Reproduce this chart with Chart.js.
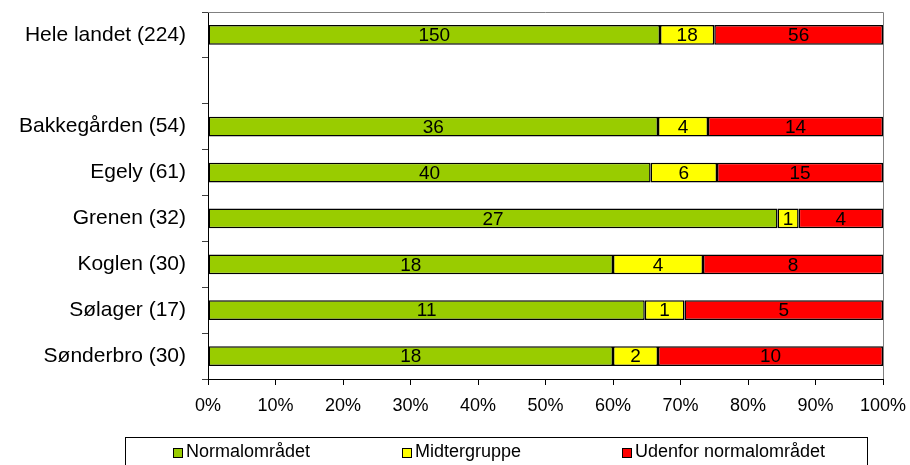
<!DOCTYPE html>
<html>
<head>
<meta charset="utf-8">
<script src="https://cdn.jsdelivr.net/npm/chart.js@4/dist/chart.umd.min.js"></script>
<style>
html,body{margin:0;padding:0;background:#fff;}
#wrap{width:910px;height:465px;position:relative;}
</style>
</head>
<body>
<div id="wrap"><canvas id="c" width="910" height="465"></canvas></div>
<script>
const categories = ["Hele landet (224)", "", "Bakkegården (54)", "Egely (61)", "Grenen (32)", "Koglen (30)", "Sølager (17)", "Sønderbro (30)"];
const seriesNames = ["Normalområdet", "Midtergruppe", "Udenfor normalområdet"];
const normal = [150, null, 36, 40, 27, 18, 11, 18];
const midter = [18, null, 4, 6, 1, 4, 1, 2];
const udenfor = [56, null, 14, 15, 4, 8, 5, 10];
const xTickLabels = ["0%","10%","20%","30%","40%","50%","60%","70%","80%","90%","100%"];
const colors = ["#99CC00", "#FFFF00", "#FF0000"];

const counts = [normal, midter, udenfor];
const totals = categories.map((_, i) => counts.reduce((s, a) => s + (a[i] || 0), 0));
const pct = counts.map(a => a.map((v, i) => v == null ? null : v / totals[i] * 100));

const FONT = "'Liberation Sans', Arial, sans-serif";

const valueLabels = {
  id: 'valueLabels',
  afterDatasetsDraw(chart) {
    const ctx = chart.ctx;
    ctx.save();
    ctx.font = "19px " + FONT;
    ctx.fillStyle = "#000";
    ctx.textAlign = "center";
    ctx.textBaseline = "middle";
    chart.data.datasets.forEach((ds, di) => {
      const meta = chart.getDatasetMeta(di);
      meta.data.forEach((el, i) => {
        const v = counts[di][i];
        if (v == null) return;
        const cx = (el.x + el.base) / 2;
        ctx.fillText(String(v), cx, el.y + 1);
      });
    });
    ctx.restore();
  }
};

const frame = {
  id: 'frame',
  beforeDatasetsDraw(chart) {
    const {ctx, chartArea: a} = chart;
    ctx.save();
    ctx.strokeStyle = "#808080";
    ctx.lineWidth = 1;
    ctx.beginPath();
    ctx.moveTo(a.left, a.top + 0.5);
    ctx.lineTo(a.right + 0.5, a.top + 0.5);
    ctx.lineTo(a.right + 0.5, a.bottom);
    ctx.stroke();
    ctx.restore();
  }
};

const boxLegend = {
  id: 'boxLegend',
  afterDraw(chart) {
    const ctx = chart.ctx;
    ctx.save();
    ctx.strokeStyle = "#000";
    ctx.lineWidth = 1;
    ctx.strokeRect(125.5, 437.5, 742, 40);
    const xs = [173, 402, 622];
    const cy = 452.5;
    ctx.font = "18px " + FONT;
    ctx.textBaseline = "middle";
    ctx.textAlign = "left";
    chart.data.datasets.forEach((ds, i) => {
      ctx.fillStyle = ds.backgroundColor;
      ctx.fillRect(xs[i], cy - 4.5, 9, 9);
      ctx.strokeStyle = "#000";
      ctx.strokeRect(xs[i] + 0.5, cy - 4.5 + 0.5, 9, 9);
      ctx.fillStyle = "#000";
      ctx.fillText(ds.label, xs[i] + 13, cy);
    });
    ctx.restore();
  }
};

new Chart(document.getElementById('c'), {
  type: 'bar',
  data: {
    labels: categories,
    datasets: seriesNames.map((n, i) => ({
      label: n,
      data: pct[i],
      backgroundColor: colors[i],
      borderColor: "#000",
      borderWidth: 1.5,
      borderSkipped: false,
      categoryPercentage: 1,
      barPercentage: 0.43
    }))
  },
  options: {
    indexAxis: 'y',
    responsive: false,
    animation: false,
    devicePixelRatio: 1,
    layout: {padding: {top: 12, right: 27, left: 0, bottom: 0}},
    plugins: {legend: {display: false}, tooltip: {enabled: false}},
    scales: {
      x: {
        stacked: true,
        min: 0, max: 100,
        ticks: {
          stepSize: 10,
          font: {family: FONT, size: 18},
          color: "#000",
          padding: 10,
          maxRotation: 0,
          callback: (v, i) => xTickLabels[i]
        },
        grid: {drawOnChartArea: false, tickLength: 6, color: "#000"},
        border: {color: "#000", width: 1},
        afterFit: s => { s.height = 86; s.paddingLeft = 0; s.paddingRight = 0; }
      },
      y: {
        stacked: true,
        ticks: {
          font: {family: FONT, size: 21},
          color: "#000",
          padding: 16,
          autoSkip: false
        },
        grid: {drawOnChartArea: false, tickLength: 6, color: "#404040", offset: true},
        border: {color: "#000", width: 1},
        afterFit: s => { s.width = 208; s.paddingTop = 0; s.paddingBottom = 0; }
      }
    }
  },
  plugins: [valueLabels, frame, boxLegend]
});
</script>
</body>
</html>
